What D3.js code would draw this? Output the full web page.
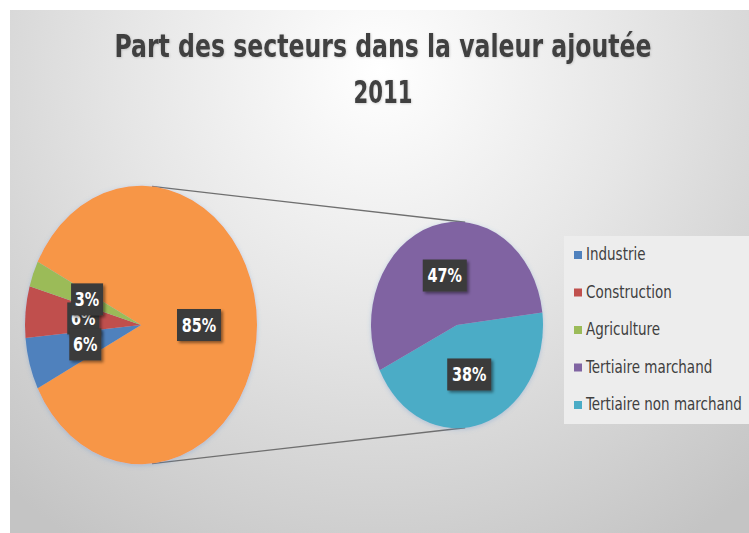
<!DOCTYPE html>
<html lang="fr">
<head>
<meta charset="utf-8">
<title>Part des secteurs dans la valeur ajoutée 2011</title>
<script src="https://cdn.jsdelivr.net/npm/d3@7"></script>
<style>
  body { margin: 0; background: #fff; }
  text { font-family: "Liberation Sans Narrow", "DejaVu Sans Condensed", "Open Sans", sans-serif; }
</style>
</head>
<body>
<script>
// données
var sectors = ["Industrie", "Construction", "Agriculture", "Tertiaire marchand", "Tertiaire non marchand"];
var shares = [6, 6, 3, 47, 38];
var colors = ["#4f81bd", "#c0504d", "#9bbb59", "#8064a2", "#4bacc6"];
var otherColor = "#f79646";
var titleLines = ["Part des secteurs dans la valeur ajoutée", "2011"];

var width = 749, height = 533;
var sy = 1.2; // graphique étiré verticalement

var svg = d3.select("body").append("svg")
    .attr("width", width)
    .attr("height", height);

var defs = svg.append("defs");
var grad = defs.append("radialGradient")
    .attr("id", "bg")
    .attr("gradientUnits", "userSpaceOnUse")
    .attr("cx", 380).attr("cy", 70).attr("r", 560);
grad.append("stop").attr("offset", 0).attr("stop-color", "#ffffff");
grad.append("stop").attr("offset", 0.45).attr("stop-color", "#e6e6e6");
grad.append("stop").attr("offset", 1).attr("stop-color", "#c4c4c4");

var shadow = defs.append("filter").attr("id", "shadow")
    .attr("x", "-30%").attr("y", "-30%").attr("width", "160%").attr("height", "160%");
shadow.append("feDropShadow").attr("dx", 2).attr("dy", 2)
    .attr("stdDeviation", 1.5).attr("flood-color", "#000").attr("flood-opacity", 0.45);

var soft = defs.append("filter").attr("id", "soft")
    .attr("x", "-10%").attr("y", "-10%").attr("width", "120%").attr("height", "120%");
soft.append("feDropShadow").attr("dx", 0).attr("dy", 1)
    .attr("stdDeviation", 2).attr("flood-color", "#5b8fd0").attr("flood-opacity", 0.35);

var txtShadow = defs.append("filter").attr("id", "txtshadow");
txtShadow.append("feDropShadow").attr("dx", 0.5).attr("dy", 0.5)
    .attr("stdDeviation", 0.8).attr("flood-color", "#000").attr("flood-opacity", 0.2);

// fond
svg.append("rect")
    .attr("x", 10).attr("y", 10)
    .attr("width", width - 10).attr("height", height - 10)
    .attr("fill", "url(#bg)");

// titre
svg.selectAll(".title")
    .data(titleLines)
    .enter().append("text")
    .attr("class", "title")
    .attr("x", 383)
    .attr("y", 0)
    .attr("transform", function(d, i) { return "translate(0," + (57 + i * 46) + ") scale(1," + sy + ")"; })
    .attr("text-anchor", "middle")
    .attr("font-size", 27)
    .attr("font-weight", "bold")
    .attr("fill", "#404040")
    .attr("filter", "url(#txtshadow)")
    .attr("textLength", function(d, i) { return i == 0 ? 537 : 59; })
    .attr("lengthAdjust", "spacingAndGlyphs")
    .text(function(d) { return d; });

// camembert principal + secondaire
var main = { cx: 141, cy: 325, r: 116 };
var sec = { cx: 457, cy: 325, r: 86 };

var otherTotal = d3.sum(shares.slice(3));
var mainData = [{ name: "Autre", value: otherTotal, color: otherColor }];
for (var i = 0; i < 3; i++) mainData.push({ name: sectors[i], value: shares[i], color: colors[i] });
var secData = [
    { name: sectors[4], value: shares[4], color: colors[4] },
    { name: sectors[3], value: shares[3], color: colors[3] }
];

var rad = Math.PI / 180;
var otherSpan = otherTotal / 100 * 360;
var mainStart = (90 - otherSpan / 2) * rad;
var pieMain = d3.pie().sort(null).value(function(d) { return d.value; })
    .startAngle(mainStart).endAngle(mainStart + 2 * Math.PI);
var secStart = 83 * rad;
var pieSec = d3.pie().sort(null).value(function(d) { return d.value; })
    .startAngle(secStart).endAngle(secStart + 2 * Math.PI);

var arcMain = d3.arc().innerRadius(0).outerRadius(main.r);
var arcSec = d3.arc().innerRadius(0).outerRadius(sec.r);

var stretched = svg.append("g")
    .attr("transform", "translate(0," + main.cy + ") scale(1," + sy + ")");

// lignes de liaison (tangentes externes)
var d = sec.cx - main.cx;
var th = Math.asin((main.r - sec.r) / d);
[-1, 1].forEach(function(s) {
    stretched.append("line")
        .attr("x1", main.cx + main.r * Math.sin(th))
        .attr("y1", s * main.r * Math.cos(th))
        .attr("x2", sec.cx + sec.r * Math.sin(th))
        .attr("y2", s * sec.r * Math.cos(th))
        .attr("stroke", "#6f6f6f")
        .attr("stroke-width", 1.3)
        .attr("vector-effect", "non-scaling-stroke");
});

var gMain = stretched.append("g").attr("transform", "translate(" + main.cx + ",0)").attr("filter", "url(#soft)");
gMain.selectAll("path")
    .data(pieMain(mainData))
    .enter().append("path")
    .attr("d", arcMain)
    .attr("fill", function(d) { return d.data.color; });

var gSec = stretched.append("g").attr("transform", "translate(" + sec.cx + ",0)").attr("filter", "url(#soft)");
gSec.selectAll("path")
    .data(pieSec(secData))
    .enter().append("path")
    .attr("d", arcSec)
    .attr("fill", function(d) { return d.data.color; });

// étiquettes de données
var labels = [];
pieMain(mainData).forEach(function(p) {
    var c = arcMain.centroid(p);
    labels.push({ x: main.cx + c[0], y: main.cy + c[1] * sy, v: p.data.value, name: p.data.name });
});
pieSec(secData).forEach(function(p) {
    var c = arcSec.centroid(p);
    labels.push({ x: sec.cx + c[0], y: sec.cy + c[1] * sy, v: p.data.value, name: p.data.name });
});
// Construction dessinée en premier (cachée par les voisines)
var order = ["Construction", "Autre", "Industrie", "Agriculture", sectors[4], sectors[3]];
labels.sort(function(a, b) { return order.indexOf(a.name) - order.indexOf(b.name); });

var lab = svg.selectAll(".lab")
    .data(labels)
    .enter().append("g")
    .attr("class", "lab")
    .attr("transform", function(d) { return "translate(" + d.x + "," + d.y + ")"; });
lab.append("rect")
    .attr("x", function(d) { return d.v >= 10 ? -22 : -16; })
    .attr("y", -16)
    .attr("width", function(d) { return d.v >= 10 ? 44 : 32; })
    .attr("height", 32)
    .attr("fill", "#3a3a3a")
    .attr("filter", "url(#shadow)");
lab.append("text")
    .attr("transform", "scale(1," + sy + ")")
    .attr("y", 5.5)
    .attr("text-anchor", "middle")
    .attr("font-size", 16)
    .attr("font-weight", "bold")
    .attr("fill", "#ffffff")
    .text(function(d) { return Math.round(d.v) + "%"; });

// légende
var legend = svg.append("g");
legend.append("rect")
    .attr("x", 564).attr("y", 236)
    .attr("width", width - 564).attr("height", 188)
    .attr("fill", "#ededed");
var item = legend.selectAll(".item")
    .data(sectors)
    .enter().append("g")
    .attr("class", "item")
    .attr("transform", function(d, i) { return "translate(574," + (255 + i * 37.5) + ")"; });
item.append("rect")
    .attr("x", 0).attr("y", -4)
    .attr("width", 8).attr("height", 8)
    .attr("fill", function(d, i) { return colors[i]; });
item.append("text")
    .attr("x", 12)
    .attr("transform", "scale(1," + sy + ")")
    .attr("y", 4.5)
    .attr("font-size", 15)
    .attr("fill", "#404040")
    .text(function(d) { return d; });
</script>
</body>
</html>
